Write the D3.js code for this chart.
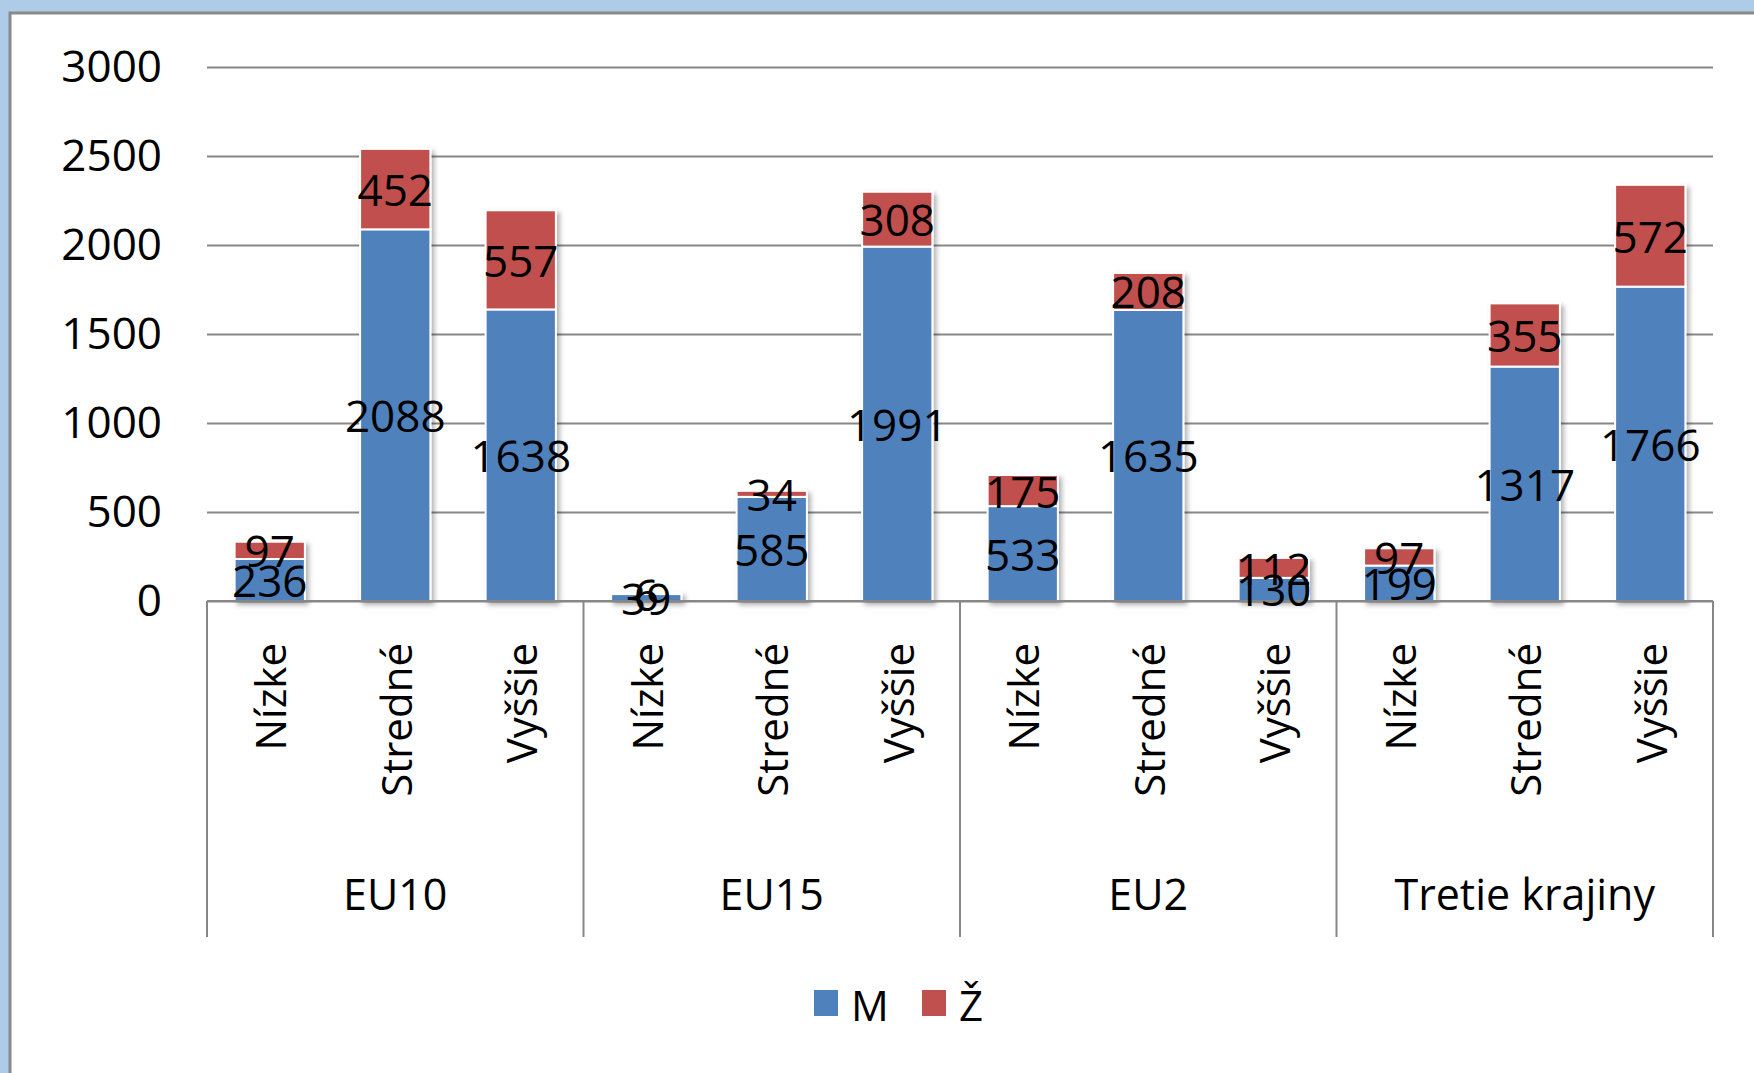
<!DOCTYPE html>
<html>
<head>
<meta charset="utf-8">
<script src="https://cdn.jsdelivr.net/npm/d3@7"></script>
<style>
  html, body { margin: 0; padding: 0; background: #aecbe8; }
  svg { display: block; font-family: "Open Sans", sans-serif; }
</style>
</head>
<body>
<svg id="chart" width="1754" height="1073"></svg>
<script>
// data
var groups = ["EU10", "EU15", "EU2", "Tretie krajiny"];
var levels = ["Nízke", "Stredné", "Vyššie"];
var valuesM = [236, 2088, 1638, 39, 585, 1991, 533, 1635, 130, 199, 1317, 1766];
var valuesZ = [97, 452, 557, 6, 34, 308, 175, 208, 112, 97, 355, 572];
var yTicks = [0, 500, 1000, 1500, 2000, 2500, 3000];
var seriesNames = ["M", "Ž"];
var colors = ["#4f81bd", "#c0504d"];

var rows = [];
groups.forEach(function(g, gi) {
    levels.forEach(function(l, li) {
        var i = gi * levels.length + li;
        rows.push({key: g + "|" + l, group: g, level: l, m: valuesM[i], z: valuesZ[i]});
    });
});

var svg = d3.select("#chart");

var plotLeft = 207, plotRight = 1713, plotTop = 67, plotBottom = 601;
var numSize = 44, textSize = 42;

// shadow for bars
var defs = svg.append("defs");
defs.append("filter").attr("id", "shadow")
    .attr("x", "-20%").attr("y", "-20%").attr("width", "150%").attr("height", "150%")
    .append("feDropShadow")
    .attr("dx", 3).attr("dy", 3).attr("stdDeviation", 2.5)
    .attr("flood-color", "#000").attr("flood-opacity", 0.3);

// white panel with gray border
svg.append("rect")
    .attr("x", 10).attr("y", 13)
    .attr("width", 1800).attr("height", 1200)
    .attr("fill", "#fff")
    .attr("stroke", "#8a8a8a").attr("stroke-width", 3);

var x = d3.scaleBand()
    .domain(rows.map(function(d) { return d.key; }))
    .range([plotLeft, plotRight])
    .paddingInner(0.44)
    .paddingOuter(0.22);

var y = d3.scaleLinear()
    .domain([0, 3000])
    .range([plotBottom, plotTop]);

// gridlines + y labels
var yAxis = d3.axisLeft(y).tickValues(yTicks).tickFormat(d3.format("d"))
    .tickSize(-(plotRight - plotLeft)).tickPadding(45);
var gy = svg.append("g").attr("transform", "translate(" + plotLeft + ",0)").call(yAxis);
gy.select(".domain").remove();
gy.selectAll(".tick line").attr("stroke", "#878787").attr("stroke-width", 2);
gy.selectAll(".tick text")
    .attr("font-size", numSize).attr("fill", "#000")
    .attr("font-family", "Open Sans, sans-serif");

// stacked series
var stack = d3.stack().keys(["m", "z"]);
var series = stack(rows);

var barG = svg.append("g").attr("filter", "url(#shadow)");
series.forEach(function(s, si) {
    barG.selectAll(".bar" + si)
        .data(s)
        .enter()
        .append("rect")
        .attr("x", function(d) { return x(d.data.key); })
        .attr("width", x.bandwidth())
        .attr("y", function(d) { return y(d[1]); })
        .attr("height", function(d) { return y(d[0]) - y(d[1]); })
        .attr("fill", colors[si])
        .attr("stroke", "#fff")
        .attr("stroke-width", 2);
});

// category axis line
svg.append("line")
    .attr("x1", plotLeft).attr("x2", plotRight)
    .attr("y1", plotBottom).attr("y2", plotBottom)
    .attr("stroke", "#878787").attr("stroke-width", 2);

// value labels
series.forEach(function(s, si) {
    svg.append("g").selectAll("text")
        .data(s)
        .enter()
        .append("text")
        .attr("x", function(d) { return x(d.data.key) + x.bandwidth() / 2; })
        .attr("y", function(d) { return y((d[0] + d[1]) / 2); })
        .attr("text-anchor", "middle")
        .attr("dominant-baseline", "central")
        .attr("font-size", numSize)
        .attr("fill", "#000")
        .text(function(d) { return d[1] - d[0]; });
});

// level labels, rotated
svg.append("g").selectAll("text")
    .data(rows)
    .enter()
    .append("text")
    .attr("transform", function(d) {
        return "translate(" + (x(d.key) + x.bandwidth() / 2) + "," + (plotBottom + 42) + ") rotate(-90)";
    })
    .attr("text-anchor", "end")
    .attr("dominant-baseline", "central")
    .attr("font-size", textSize)
    .attr("fill", "#000")
    .text(function(d) { return d.level; });

// group dividers and labels
var groupW = x.step() * levels.length;
d3.range(groups.length + 1).forEach(function(i) {
    svg.append("line")
        .attr("x1", plotLeft + i * groupW).attr("x2", plotLeft + i * groupW)
        .attr("y1", plotBottom).attr("y2", 937)
        .attr("stroke", "#878787").attr("stroke-width", 2);
});
svg.append("g").selectAll("text")
    .data(groups)
    .enter()
    .append("text")
    .attr("x", function(d, i) { return plotLeft + i * groupW + groupW / 2; })
    .attr("y", 893)
    .attr("text-anchor", "middle")
    .attr("dominant-baseline", "central")
    .attr("font-size", textSize + 1)
    .attr("fill", "#000")
    .text(function(d) { return d; });

// legend
var legend = svg.append("g").attr("transform", "translate(814,990)");
var legX = [0, 108];
seriesNames.forEach(function(n, i) {
    legend.append("rect")
        .attr("x", legX[i]).attr("y", 0)
        .attr("width", 24).attr("height", 26)
        .attr("fill", colors[i]);
    legend.append("text")
        .attr("x", legX[i] + 37).attr("y", 14)
        .attr("dominant-baseline", "central")
        .attr("font-size", textSize)
        .attr("fill", "#000")
        .text(n);
});
</script>
</body>
</html>
